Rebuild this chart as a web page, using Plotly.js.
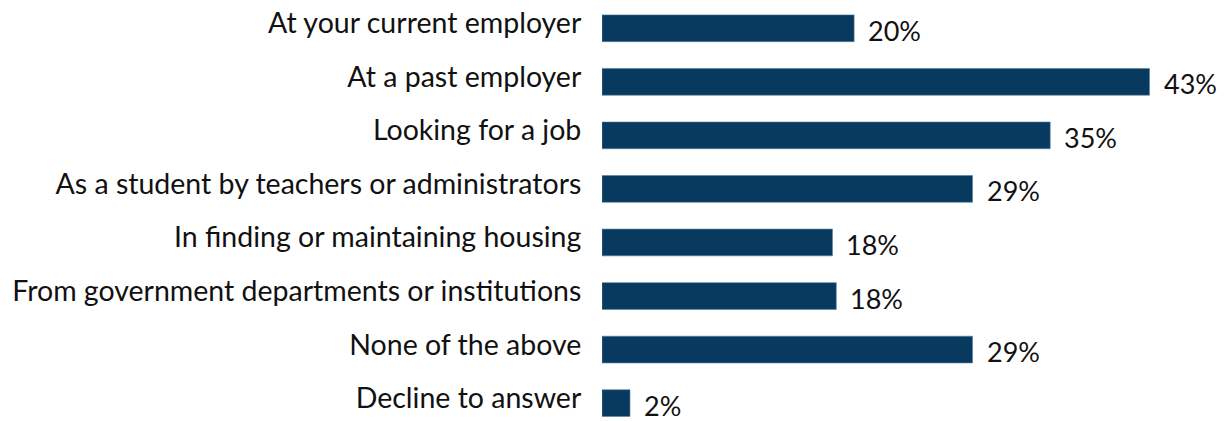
<!DOCTYPE html>
<html><head><meta charset="utf-8">
<script src="https://cdn.plot.ly/plotly-3.0.1.min.js"></script>
<style>html,body{margin:0;padding:0;background:#fff;}#chart{width:1225px;height:421px;}</style>
</head><body><div id="chart"></div>
<script>
const categories = [
  "At your current employer",
  "At a past employer",
  "Looking for a job",
  "As a student by teachers or administrators",
  "In finding or maintaining housing",
  "From government departments or institutions",
  "None of the above",
  "Decline to answer"
];
const values = [19.8, 43.0, 35.2, 29.1, 18.1, 18.4, 29.1, 2.2];
const valueLabels = ["20%", "43%", "35%", "29%", "18%", "18%", "29%", "2%"];

const FONT = "Lato, 'Open Sans', sans-serif";
const trace = {
  type: "bar", orientation: "h",
  x: values, y: categories,
  marker: {color: "#073a5e", line: {color: "#5a7f9c", width: 0.6}},
  width: 0.5,
  hoverinfo: "none"
};
const annotations = values.map((v, i) => ({
  x: v, y: categories[i], xref: "x", yref: "y",
  text: valueLabels[i], showarrow: false,
  xanchor: "left", yanchor: "middle", xshift: 12, yshift: -2,
  font: {family: FONT, size: 27, color: "#111"}
}));
const layout = {
  width: 1225, height: 421,
  margin: {l: 602, r: 50, t: 0, b: 0},
  paper_bgcolor: "#fff", plot_bgcolor: "#fff",
  showlegend: false,
  xaxis: {range: [0, 45], visible: false, fixedrange: true},
  yaxis: {
    type: "category", range: [7.334, -0.528],
    showgrid: false, zeroline: false, showline: false,
    ticks: "outside", ticklen: 14, tickcolor: "rgba(0,0,0,0)",
    ticklabelshift: 5,
    tickfont: {family: FONT, size: 28.5, color: "#111"}
  },
  annotations: annotations
};
Plotly.newPlot("chart", [trace], layout, {displayModeBar: false, staticPlot: true});
</script></body></html>
